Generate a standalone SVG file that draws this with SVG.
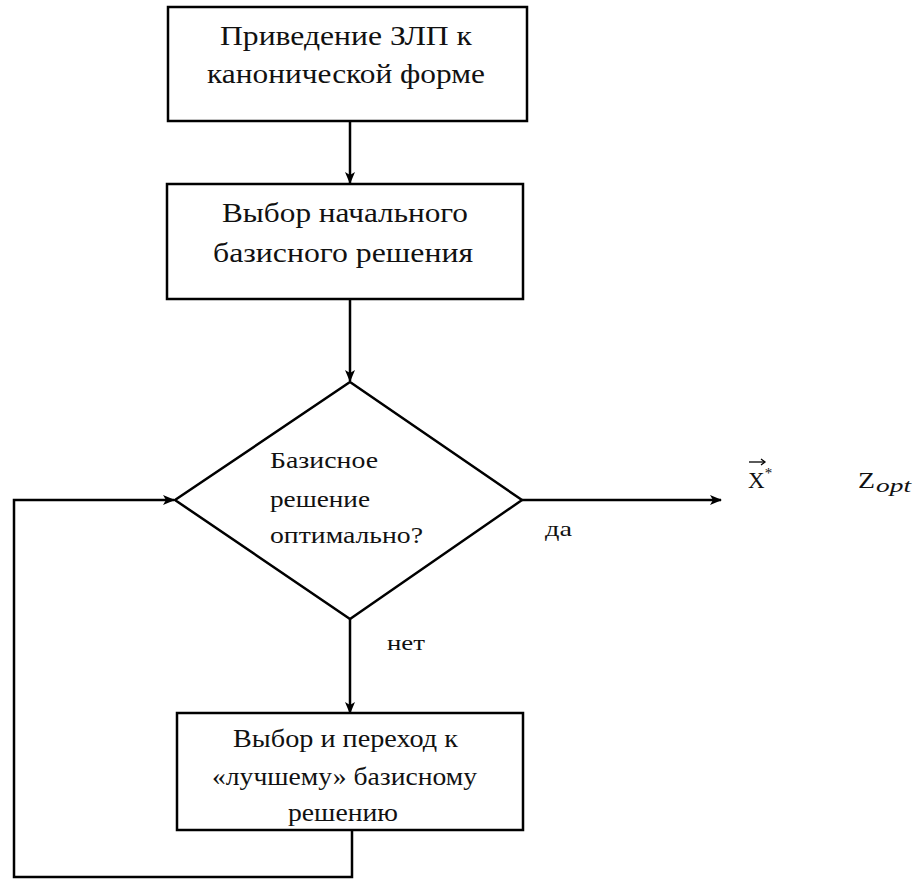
<svg xmlns="http://www.w3.org/2000/svg" width="913" height="879" viewBox="0 0 913 879">
<style>
.box{fill:#fff;stroke:#000;stroke-width:2.5}
.ln{fill:none;stroke:#000;stroke-width:2.5}
text{font-family:"Liberation Serif","DejaVu Serif","Times New Roman",serif;fill:#111}
.big{font-size:27px}
.mid{font-size:23px}
.b3{font-size:25px}
.sm{font-size:22px}
</style>
<defs>
<marker id="ah" viewBox="0 0 12 10" refX="11" refY="5" markerWidth="12" markerHeight="10" markerUnits="userSpaceOnUse" orient="auto">
<path d="M0,0 L12,5 L0,10 L3,5 Z" fill="#000"/>
</marker>
</defs>
<g id="connectors">
<line class="ln" x1="350" y1="121" x2="350" y2="183" marker-end="url(#ah)"/>
<line class="ln" x1="350" y1="299" x2="350" y2="381" marker-end="url(#ah)"/>
<line class="ln" x1="522" y1="500" x2="721" y2="500" marker-end="url(#ah)"/>
<line class="ln" x1="350" y1="619" x2="350" y2="713" marker-end="url(#ah)"/>
<polyline class="ln" points="352,830 352,877 14,877 14,500 174,500" marker-end="url(#ah)"/>
<text class="sm" x="545" y="536" textLength="27" lengthAdjust="spacingAndGlyphs">да</text>
<text class="sm" x="387" y="650" textLength="38" lengthAdjust="spacingAndGlyphs">нет</text>
</g>
<g id="n1">
<rect class="box" x="168" y="7" width="359" height="114"/>
<text class="big" x="220" y="45" textLength="252" lengthAdjust="spacingAndGlyphs">Приведение ЗЛП к</text>
<text class="big" x="207" y="83" textLength="278" lengthAdjust="spacingAndGlyphs">канонической форме</text>
</g>
<g id="n2">
<rect class="box" x="167" y="184" width="356" height="115"/>
<text class="big" x="222" y="222" textLength="246" lengthAdjust="spacingAndGlyphs">Выбор начального</text>
<text class="big" x="213" y="262" textLength="260" lengthAdjust="spacingAndGlyphs">базисного решения</text>
</g>
<g id="n3">
<polygon class="box" points="350,382 522,500 350,619 175,500"/>
<text class="mid" x="270" y="468" textLength="108" lengthAdjust="spacingAndGlyphs">Базисное</text>
<text class="mid" x="270" y="507" textLength="100" lengthAdjust="spacingAndGlyphs">решение</text>
<text class="mid" x="270" y="543" textLength="153" lengthAdjust="spacingAndGlyphs">оптимально?</text>
</g>
<g id="n4">
<rect class="box" x="177" y="713" width="346" height="117"/>
<text class="b3" x="233" y="747" textLength="225" lengthAdjust="spacingAndGlyphs">Выбор и переход к</text>
<text class="b3" x="212" y="785" textLength="265" lengthAdjust="spacingAndGlyphs">«лучшему» базисному</text>
<text class="b3" x="288" y="821" textLength="110" lengthAdjust="spacingAndGlyphs">решению</text>
</g>
<g id="result">
<text x="748" y="488" font-size="23">X<tspan font-size="15" dy="-10">*</tspan></text>
<line x1="749" y1="462" x2="764" y2="462" stroke="#000" stroke-width="1.3"/>
<path d="M761,459 L765,462 L761,465" fill="none" stroke="#000" stroke-width="1.3"/>
<text x="858" y="488" font-size="24" textLength="17" lengthAdjust="spacingAndGlyphs">Z</text>
<text x="876" y="492" font-size="19" font-style="italic" textLength="35" lengthAdjust="spacingAndGlyphs">opt</text>
</g>
</svg>
